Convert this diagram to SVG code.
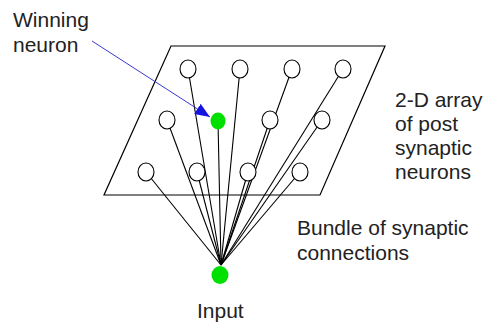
<svg xmlns="http://www.w3.org/2000/svg" width="486" height="326" viewBox="0 0 486 326">
<style>
  .lbl { font-family: "Liberation Sans", Arial, sans-serif; font-size: 21px; fill: #222; }
  .n { fill: #fff; stroke: #000; stroke-width: 1.1; }
  .g { fill: #00e000; }
  .c line { stroke: #000; stroke-width: 1.1; }
</style>
<defs>
  <marker id="ah" viewBox="0 0 15 12" refX="15" refY="6" markerWidth="15" markerHeight="12" markerUnits="userSpaceOnUse" orient="auto">
    <path d="M0,0 L15,6 L0,12 Z" fill="#1414e0"/>
  </marker>
</defs>
<rect width="486" height="326" fill="#fff"/>
<g id="array">
  <polygon points="171,46 385,46 320,195 104,195" fill="none" stroke="#000" stroke-width="1.2"/>
</g>
<g class="c" id="connectors">
  <line x1="188" y1="69" x2="221" y2="265"/>
  <line x1="240" y1="69" x2="221" y2="265"/>
  <line x1="292" y1="69" x2="221" y2="265"/>
  <line x1="343" y1="69" x2="221" y2="265"/>
  <line x1="167" y1="120" x2="221" y2="265"/>
  <line x1="218" y1="121" x2="221" y2="265"/>
  <line x1="270" y1="120" x2="221" y2="265"/>
  <line x1="322" y1="120" x2="221" y2="265"/>
  <line x1="146" y1="172" x2="221" y2="265"/>
  <line x1="197" y1="172" x2="221" y2="265"/>
  <line x1="248" y1="172" x2="221" y2="265"/>
  <line x1="300" y1="172" x2="221" y2="265"/>
  <line x1="92" y1="41" x2="210" y2="117" marker-end="url(#ah)" style="stroke:#3a3ad0;stroke-width:1"/>
</g>
<g id="n11"><ellipse class="n" cx="188" cy="69" rx="8" ry="9"/></g>
<g id="n12"><ellipse class="n" cx="240" cy="69" rx="8" ry="9"/></g>
<g id="n13"><ellipse class="n" cx="292" cy="69" rx="8" ry="9"/></g>
<g id="n14"><ellipse class="n" cx="343" cy="69" rx="8" ry="9"/></g>
<g id="n21"><ellipse class="n" cx="167" cy="120" rx="8" ry="9"/></g>
<g id="winner"><ellipse class="g" cx="218" cy="121" rx="7.5" ry="8.5"/></g>
<g id="n23"><ellipse class="n" cx="270" cy="120" rx="8" ry="9"/></g>
<g id="n24"><ellipse class="n" cx="322" cy="120" rx="8" ry="9"/></g>
<g id="n31"><ellipse class="n" cx="146" cy="172" rx="8" ry="9"/></g>
<g id="n32"><ellipse class="n" cx="197" cy="172" rx="8" ry="9"/></g>
<g id="n33"><ellipse class="n" cx="248" cy="172" rx="8" ry="9"/></g>
<g id="n34"><ellipse class="n" cx="300" cy="172" rx="8" ry="9"/></g>
<g id="input"><ellipse class="g" cx="220" cy="275" rx="8.5" ry="9"/></g>
<g id="labels">
  <text class="lbl" x="13" y="27">Winning</text>
  <text class="lbl" x="13" y="52">neuron</text>
  <text class="lbl" x="395" y="107">2-D array</text>
  <text class="lbl" x="395" y="131">of post</text>
  <text class="lbl" x="395" y="155">synaptic</text>
  <text class="lbl" x="395" y="179">neurons</text>
  <text class="lbl" x="297" y="235">Bundle of synaptic</text>
  <text class="lbl" x="297" y="260">connections</text>
  <text class="lbl" x="197" y="318">Input</text>
</g>
</svg>
